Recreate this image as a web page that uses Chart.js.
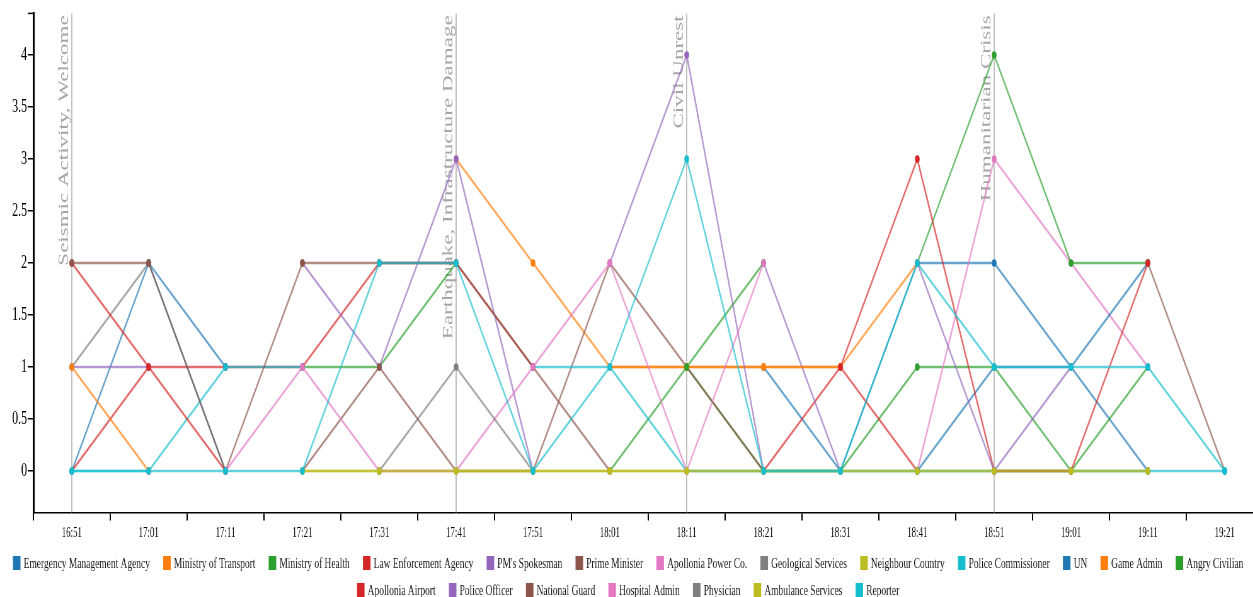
<!DOCTYPE html>
<html>
<head>
<meta charset="utf-8">
<script src="https://cdn.jsdelivr.net/npm/chart.js@4"></script>
<style>
html,body{margin:0;padding:0;background:#fff;width:1253px;height:597px;overflow:hidden;}
#wrap{position:absolute;left:0;top:0;width:2009px;height:597px;transform:scaleX(0.63);transform-origin:0 0;}
</style>
</head>
<body>
<div id="wrap"><canvas id="c"></canvas></div>
<script>
const N = null;
const categories = ['16:51','17:01','17:11','17:21','17:31','17:41','17:51','18:01','18:11','18:21','18:31','18:41','18:51','19:01','19:11','19:21'];
const yTickValues = [0,0.5,1,1.5,2,2.5,3,3.5,4];

const emergencyManagementAgency = [0,2,1,N,N,N,N,N,N,1,0,2,2,1,0,N];
const ministryOfTransport       = [N,N,N,N,N,3,2,1,1,1,1,2,N,N,N,N];
const ministryOfHealth          = [N,N,N,1,1,2,N,0,1,0,0,1,1,0,1,N];
const lawEnforcementAgency      = [0,1,1,1,2,2,1,N,N,0,1,0,N,N,N,N];
const pmsSpokesman              = [1,1,N,2,1,3,0,N,N,2,0,N,N,N,N,N];
const primeMinister             = [N,N,N,0,1,0,0,2,1,0,N,N,N,N,2,0];
const apolloniaPowerCo          = [N,N,N,N,N,N,N,N,N,N,N,0,3,2,1,N];
const geologicalServices        = [1,2,N,N,N,N,N,N,N,N,N,N,N,N,N,N];
const neighbourCountry          = [N,N,N,0,0,0,0,0,0,0,0,0,0,0,0,N];
const policeCommissioner        = [0,0,1,1,N,N,1,1,0,0,0,0,0,0,0,0];
const un                        = [N,2,0,N,N,N,N,N,N,N,N,0,1,1,2,N];
const gameAdmin                 = [1,0,N,N,N,N,N,1,1,1,1,N,N,N,N,N];
const angryCivilian             = [N,N,N,N,N,N,N,N,1,2,N,2,4,2,2,N];
const apolloniaAirport          = [2,1,0,N,N,N,N,N,N,N,1,3,0,0,2,N];
const policeOfficer             = [N,N,N,N,N,N,N,2,4,0,N,2,0,1,N,N];
const nationalGuard             = [2,2,0,2,2,2,1,0,N,N,N,N,N,N,N,N];
const hospitalAdmin             = [N,N,0,1,0,0,1,2,0,2,N,N,N,N,N,N];
const physician                 = [N,N,N,N,0,1,0,N,N,N,N,N,N,N,N,N];
const ambulanceServices         = [N,N,N,0,0,0,0,0,0,0,0,0,0,0,0,N];
const reporter                  = [0,0,0,0,2,2,0,1,3,0,0,2,1,1,1,0];

const seriesNames = ['Emergency Management Agency','Ministry of Transport','Ministry of Health','Law Enforcement Agency',"PM's Spokesman",'Prime Minister','Apollonia Power Co.','Geological Services','Neighbour Country','Police Commissioner','UN','Game Admin','Angry Civilian','Apollonia Airport','Police Officer','National Guard','Hospital Admin','Physician','Ambulance Services','Reporter'];
const seriesValues = [emergencyManagementAgency,ministryOfTransport,ministryOfHealth,lawEnforcementAgency,pmsSpokesman,primeMinister,apolloniaPowerCo,geologicalServices,neighbourCountry,policeCommissioner,un,gameAdmin,angryCivilian,apolloniaAirport,policeOfficer,nationalGuard,hospitalAdmin,physician,ambulanceServices,reporter];

const eventCategories = ['16:51','17:41','18:11','18:51'];
const eventLabels = ['Seismic Activity, Welcome','Earthquake, Infrastructure Damage','Civil Unrest','Humanitarian Crisis'];

const palette = ['#1f77b4','#ff7f0e','#2ca02c','#d62728','#9467bd','#8c564b','#e377c2','#7f7f7f','#bcbd22','#17becf'];
function rgba(hex,a){const n=parseInt(hex.slice(1),16);return `rgba(${n>>16&255},${n>>8&255},${n&255},${a})`;}

const FONT = '"Liberation Serif","Times New Roman",serif';
Chart.defaults.font.family = FONT;

const datasets = seriesNames.map((name,i)=>{
  const col = palette[i%10];
  return {
    label: name,
    data: seriesValues[i],
    borderColor: rgba(col,0.68),
    backgroundColor: col,
    pointBackgroundColor: col,
    pointBorderWidth: 0,
    pointRadius: 3.8,
    borderWidth: 2.4,
    tension: 0,
    spanGaps: false,
    fill: false,
    order: seriesNames.length - 1 - i
  };
});

const eventPlugin = {
  id: 'events',
  beforeDatasetsDraw(chart){
    const {ctx, chartArea, scales} = chart;
    const x = scales.x;
    ctx.save();
    eventCategories.forEach((c,i)=>{
      const px = x.getPixelForValue(categories.indexOf(c));
      ctx.strokeStyle = '#b0b0b0';
      ctx.lineWidth = 1.6;
      ctx.beginPath(); ctx.moveTo(px, chartArea.top); ctx.lineTo(px, chartArea.bottom); ctx.stroke();
      ctx.save();
      ctx.translate(px - 1, chartArea.top + 2);
      ctx.rotate(-Math.PI/2);
      ctx.font = '23px ' + FONT;
      ctx.fillStyle = '#a6a6a6';
      ctx.textAlign = 'right';
      ctx.textBaseline = 'bottom';
      ctx.fillText(eventLabels[i], 0, 0);
      ctx.restore();
    });
    const yx = scales.y.left + scales.y.width;
    ctx.strokeStyle = '#000'; ctx.lineWidth = 1.5;
    ctx.beginPath(); ctx.moveTo(yx - 9, chartArea.top); ctx.lineTo(yx, chartArea.top); ctx.stroke();
    ctx.restore();
  }
};

const legendPlugin = {
  id: 'customLegend',
  afterDraw(chart){
    const ctx = chart.ctx;
    ctx.save();
    ctx.font = '15px ' + FONT;
    ctx.textBaseline = 'middle';
    ctx.textAlign = 'left';
    const boxW = 12, boxH = 14, textGap = 5, itemGap = 21;
    const rows = [[0,13,563],[13,20,590]];
    const cx = 997;
    rows.forEach(([a,b,y])=>{
      const items = [];
      for(let i=a;i<b;i++){items.push({i, w: boxW + textGap + ctx.measureText(seriesNames[i]).width});}
      const total = items.reduce((s,it)=>s+it.w,0) + itemGap*(items.length-1);
      let xx = cx - total/2;
      items.forEach(it=>{
        ctx.fillStyle = palette[it.i%10];
        ctx.fillRect(xx, y - boxH/2, boxW, boxH);
        ctx.fillStyle = '#1a1a1a';
        ctx.fillText(seriesNames[it.i], xx + boxW + textGap, y + 1);
        xx += it.w + itemGap;
      });
    });
    ctx.restore();
  }
};

new Chart(document.getElementById('c'), {
  type: 'line',
  data: { labels: categories, datasets },
  options: {
    responsive: true,
    maintainAspectRatio: false,
    animation: false,
    devicePixelRatio: 1,
    layout: { padding: { top: 13.4, bottom: 44.4, left: 0, right: 0 } },
    plugins: { legend: { display: false }, tooltip: { enabled: false } },
    scales: {
      x: {
        type: 'category',
        offset: true,
        grid: { offset: true, drawOnChartArea: false, drawTicks: true, tickLength: 8, color: '#000', lineWidth: 2 },
        border: { display: true, color: '#000', width: 1.5 },
        ticks: { autoSkip: false, maxRotation: 0, minRotation: 0, font: { size: 14 }, color: '#000', padding: 4 },
        afterFit(s){ s.height = 40; }
      },
      y: {
        min: -0.4, max: 4.4,
        afterBuildTicks(s){ s.ticks = yTickValues.map(v=>({value:v})); },
        ticks: { callback: v => String(v), font: { size: 19 }, color: '#000', padding: 1 },
        grid: { drawOnChartArea: false, drawTicks: true, tickLength: 9, color: '#000', lineWidth: 1.5 },
        border: { display: true, color: '#000', width: 3 },
        afterFit(s){ s.width = 53; }
      }
    }
  },
  plugins: [eventPlugin, legendPlugin]
});
</script>
</body>
</html>
